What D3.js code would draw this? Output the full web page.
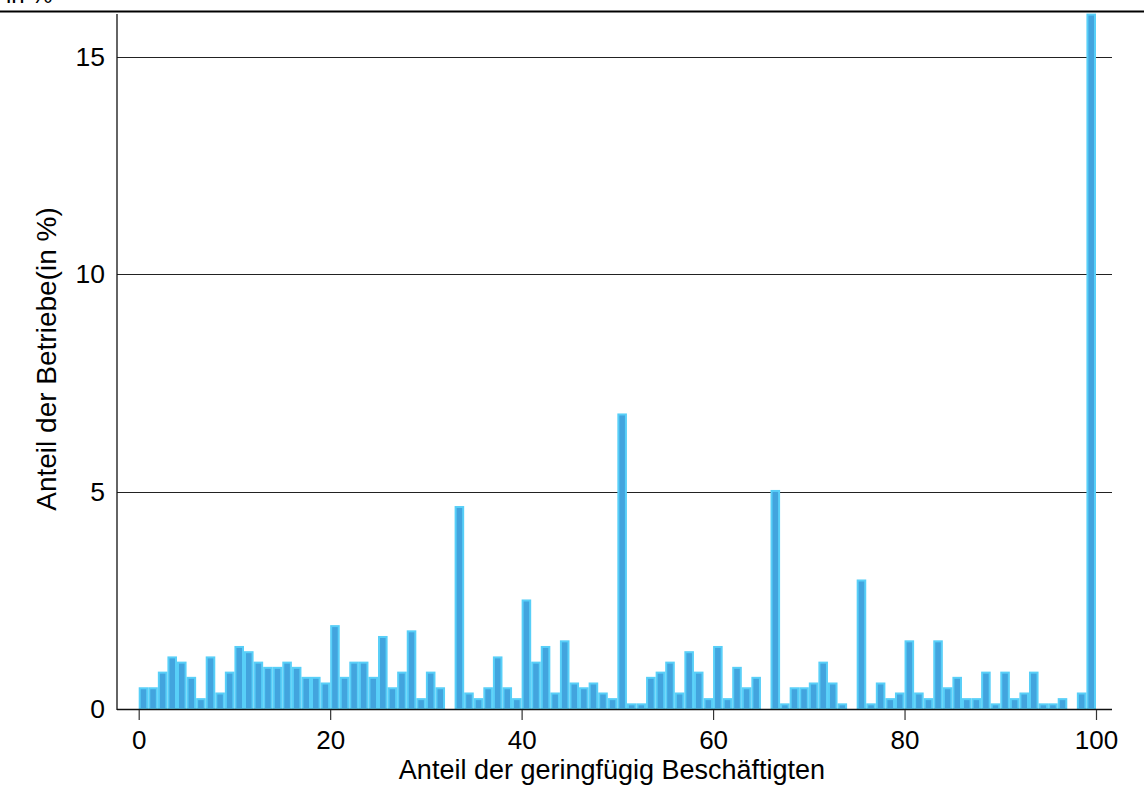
<!DOCTYPE html>
<html>
<head>
<meta charset="utf-8">
<script src="https://cdn.jsdelivr.net/npm/d3@7"></script>
<style>
  html, body { margin: 0; padding: 0; background: #fff; }
  svg { display: block; font-family: "Liberation Sans", Arial, Helvetica, sans-serif; }
</style>
</head>
<body>
<svg id="chart" width="1144" height="787"></svg>
<script>
// ---- Data (share of establishments in %, per 1-point bin of marginal-employee share) ----
const values = [
  0.50, 0.50, 0.86, 1.21, 1.09, 0.74, 0.25, 1.21, 0.38, 0.86,
  1.45, 1.33, 1.09, 0.97, 0.97, 1.09, 0.97, 0.74, 0.74, 0.61,
  1.93, 0.74, 1.09, 1.09, 0.74, 1.68, 0.50, 0.86, 1.81, 0.25,
  0.86, 0.50, 0.00, 4.67, 0.38, 0.25, 0.50, 1.21, 0.50, 0.25,
  2.52, 1.09, 1.45, 0.38, 1.58, 0.61, 0.50, 0.61, 0.38, 0.25,
  6.80, 0.13, 0.13, 0.74, 0.86, 1.09, 0.38, 1.33, 0.86, 0.25,
  1.45, 0.25, 0.97, 0.50, 0.74, 0.00, 5.04, 0.13, 0.50, 0.50,
  0.61, 1.09, 0.61, 0.13, 0.00, 2.98, 0.13, 0.61, 0.25, 0.38,
  1.58, 0.38, 0.25, 1.58, 0.50, 0.74, 0.25, 0.25, 0.86, 0.13,
  0.86, 0.25, 0.38, 0.86, 0.13, 0.13, 0.25, 0.00, 0.38, 16.0
];
const binStarts = values.map((_, i) => i);
const xTicks = [0, 20, 40, 60, 80, 100];
const yTicks = [0, 5, 10, 15];
const xTitle = "Anteil der geringfügig Beschäftigten";
const yTitle = "Anteil der Betriebe(in %)";
const topNote = "in %";

// ---- Layout ----
const svg = d3.select("#chart");
const plotLeft = 117, plotRight = 1112, plotTop = 14, plotBottom = 709;
const x = d3.scaleLinear().domain([0, 100]).range([138.7, 1096]);
const y = d3.scaleLinear().domain([0, 16]).range([plotBottom, plotTop - 0.4]);

// top rule and (partly hidden) note, as in the reference
svg.append("text").attr("x", 6).attr("y", 3).attr("font-size", 24).attr("fill", "#000").text(topNote);
svg.append("line").attr("x1", 0).attr("x2", 1144).attr("y1", 11.5).attr("y2", 11.5)
  .attr("stroke", "#000").attr("stroke-width", 2);

// gridlines
svg.append("g").selectAll("line").data(yTicks.filter(d => d > 0)).join("line")
  .attr("x1", plotLeft).attr("x2", plotRight)
  .attr("y1", d => Math.round(y(d)) + 0.5).attr("y2", d => Math.round(y(d)) + 0.5)
  .attr("stroke", "#222").attr("stroke-width", 1.1);

// bars
svg.append("g").selectAll("rect").data(binStarts.filter(i => values[i] > 0)).join("rect")
  .attr("x", i => x(i) + 1)
  .attr("width", i => x(i + 1) - x(i) - 2)
  .attr("y", i => y(values[i]) + 1)
  .attr("height", i => y(0) - y(values[i]) - 1)
  .attr("fill", "#42a4de")
  .attr("stroke", "#58cff8")
  .attr("stroke-width", 2);

// axis lines
svg.append("line").attr("x1", plotLeft).attr("x2", plotLeft).attr("y1", plotTop).attr("y2", plotBottom + 1)
  .attr("stroke", "#111").attr("stroke-width", 1.3);
svg.append("line").attr("x1", plotLeft).attr("x2", plotRight).attr("y1", plotBottom + 0.5).attr("y2", plotBottom + 0.5)
  .attr("stroke", "#111").attr("stroke-width", 1.3);

// x axis
const xAxis = svg.append("g").attr("transform", `translate(0,${plotBottom + 1})`)
  .call(d3.axisBottom(x).tickValues(xTicks).tickSize(10).tickPadding(11).tickFormat(d3.format("d")));
xAxis.select(".domain").remove();
xAxis.selectAll(".tick line").attr("stroke", "#333").attr("stroke-width", 1.2);
xAxis.selectAll(".tick text").attr("font-size", 26).attr("fill", "#000")
  .attr("font-family", "Liberation Sans, Arial, sans-serif");

// y axis
const yAxis = svg.append("g").attr("transform", `translate(${plotLeft},0)`)
  .call(d3.axisLeft(y).tickValues(yTicks).tickSize(0).tickPadding(12).tickFormat(d3.format("d")));
yAxis.select(".domain").remove();
yAxis.selectAll(".tick text").attr("font-size", 26.5).attr("fill", "#000")
  .attr("font-family", "Liberation Sans, Arial, sans-serif");

// titles
svg.append("text").attr("x", 612).attr("y", 779).attr("text-anchor", "middle")
  .attr("font-size", 27).attr("fill", "#000").text(xTitle);
svg.append("text").attr("transform", "translate(56,359) rotate(-90)").attr("text-anchor", "middle")
  .attr("font-size", 28).attr("fill", "#000").text(yTitle);
</script>
</body>
</html>
